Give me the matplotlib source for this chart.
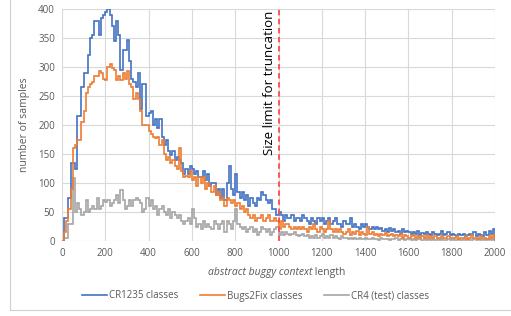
import numpy as np
import matplotlib.pyplot as plt
from matplotlib.patches import Rectangle

plt.rcParams['font.family'] = ['Open Sans', 'DejaVu Sans']

# histogram counts, bins of 10 from 0 to 2000
cr1235 = [0, 40, 40, 75, 135, 135, 125, 215, 215, 265,
          290, 290, 320, 350, 355, 380, 380, 355, 385, 390,
          395, 400, 390, 370, 345, 380, 355, 295, 330, 330,
          347, 310, 280, 275, 265, 290, 228, 270, 270, 215,
          220, 225, 200, 210, 195, 210, 180, 165, 175, 155,
          148, 155, 140, 145, 140, 135, 115, 125, 115, 130,
          125, 115, 120, 110, 110, 120, 105, 115, 95, 100,
          100, 80, 90, 75, 90, 70, 100, 130, 90, 80,
          115, 85, 75, 85, 70, 80, 60, 75, 65, 60,
          75, 70, 85, 80, 70, 65, 70, 55, 55, 45,
          50, 45, 35, 45, 40, 40, 45, 35, 40, 40,
          35, 45, 40, 35, 30, 40, 35, 30, 40, 35,
          40, 30, 35, 40, 30, 35, 40, 30, 30, 25,
          35, 30, 30, 40, 25, 30, 25, 20, 30, 25,
          30, 25, 20, 25, 20, 25, 20, 22, 18, 20,
          15, 22, 18, 20, 15, 18, 12, 20, 15, 18,
          15, 12, 15, 12, 18, 10, 14, 12, 15, 12,
          10, 15, 12, 10, 12, 18, 10, 12, 15, 10,
          12, 10, 8, 12, 10, 12, 8, 10, 12, 10,
          15, 8, 12, 10, 8, 15, 10, 18, 12, 20]

bugs2fix = [0, 15, 35, 55, 90, 160, 165, 175, 175, 205,
            225, 255, 265, 270, 275, 285, 285, 293, 290, 280,
            278, 300, 305, 298, 295, 277, 285, 277, 290, 280,
            293, 270, 265, 245, 255, 245, 225, 200, 200, 200,
            190, 185, 180, 178, 180, 165, 175, 150, 140, 145,
            135, 140, 130, 125, 160, 120, 110, 112, 110, 120,
            105, 110, 95, 110, 100, 110, 90, 100, 95, 85,
            95, 80, 85, 70, 75, 60, 75, 70, 65, 70,
            60, 65, 55, 60, 50, 55, 45, 40, 45, 35,
            40, 40, 45, 35, 40, 45, 35, 35, 40, 35,
            20, 35, 25, 30, 30, 25, 20, 25, 20, 25,
            20, 25, 20, 15, 25, 20, 30, 20, 15, 25,
            20, 15, 20, 35, 20, 15, 20, 15, 20, 15,
            12, 15, 20, 10, 15, 12, 18, 10, 15, 12,
            10, 25, 12, 15, 10, 12, 8, 12, 10, 14,
            8, 10, 12, 8, 10, 8, 12, 6, 10, 8,
            6, 8, 10, 6, 8, 5, 8, 6, 10, 5,
            8, 6, 8, 5, 6, 8, 5, 6, 8, 5,
            6, 5, 8, 4, 6, 5, 8, 4, 6, 10,
            5, 6, 4, 8, 5, 6, 4, 8, 5, 10]

cr4 = [0, 5, 5, 30, 30, 108, 50, 65, 55, 45,
       50, 70, 50, 55, 60, 55, 75, 55, 60, 70,
       68, 70, 60, 65, 70, 80, 65, 88, 70, 55,
       60, 70, 60, 70, 75, 70, 65, 50, 55, 75,
       60, 70, 55, 60, 45, 55, 60, 50, 45, 55,
       40, 50, 45, 40, 45, 35, 30, 35, 40, 30,
       55, 40, 25, 30, 20, 35, 25, 30, 25, 20,
       35, 30, 20, 30, 35, 15, 35, 30, 20, 35,
       55, 30, 25, 20, 25, 15, 20, 25, 15, 20,
       10, 15, 25, 20, 15, 20, 10, 15, 20, 25,
       10, 15, 10, 15, 12, 10, 12, 15, 10, 8,
       10, 12, 8, 10, 6, 8, 5, 10, 6, 8,
       12, 5, 8, 6, 10, 5, 8, 6, 4, 8,
       5, 6, 4, 5, 3, 6, 4, 5, 3, 4,
       5, 3, 4, 6, 3, 4, 2, 5, 3, 4,
       3, 2, 4, 3, 5, 2, 3, 4, 2, 3,
       4, 2, 3, 2, 4, 3, 2, 3, 2, 4,
       2, 3, 2, 4, 2, 3, 2, 2, 3, 2,
       3, 2, 2, 3, 2, 4, 2, 3, 2, 2,
       3, 2, 4, 2, 3, 2, 2, 3, 2, 4]

edges = np.arange(0, 2001, 10)
limit = 1000

fig = plt.figure(figsize=(5.11, 3.16), dpi=100)
ax = fig.add_axes([62/511, 1 - 241/316, 433/511, 232/316])

# chart frame like the spreadsheet
fig.patches.append(Rectangle((10/511, 1 - 310/316), 510/511, 320/316,
                             transform=fig.transFigure, fill=False,
                             edgecolor='#d0d0d0', lw=0.8))

ax.stairs(cr1235, edges, color='#4472C4', lw=1.2, label='CR1235 classes', zorder=4)
ax.stairs(bugs2fix, edges, color='#ED7D31', lw=1.2, label='Bugs2Fix classes', zorder=5)
ax.stairs(cr4, edges, color='#A5A5A5', lw=1.2, label='CR4 (test) classes', zorder=3)

ax.axvline(limit, color='#FF4B4B', ls=(0, (3, 2)), lw=1.3, zorder=6)
ax.text(limit - 42, 272, 'Size limit for truncation', rotation=90,
        ha='center', va='center', fontsize=9.5, color='black')

ax.set_xlim(0, 2000)
ax.set_ylim(0, 400)
ax.set_xticks(np.arange(0, 2001, 200))
ax.set_yticks(np.arange(0, 401, 50))
ax.grid(True, color='#d9d9d9', lw=0.8)
ax.set_axisbelow(True)
for s in ax.spines.values():
    s.set_visible(False)
ax.tick_params(length=0, labelsize=7, colors='#595959', pad=5)
ax.set_ylabel('number of samples', fontsize=7.5, color='#595959', labelpad=6)

t1 = fig.text(312/511, 1 - 275/316, 'abstract buggy context', style='italic',
              fontsize=7.5, color='#595959', ha='right', va='baseline')
ax.annotate(' length', xy=(1, 0), xycoords=t1, va='bottom', fontsize=7.5,
            color='#595959')

ax.legend(loc='center', bbox_to_anchor=(0.5, 1 - 296/316), bbox_transform=fig.transFigure,
          ncol=3, frameon=False, fontsize=7, labelcolor='#595959',
          handlelength=2.6, handletextpad=0.2, columnspacing=2.2)

fig.savefig('out.png', dpi=100)
